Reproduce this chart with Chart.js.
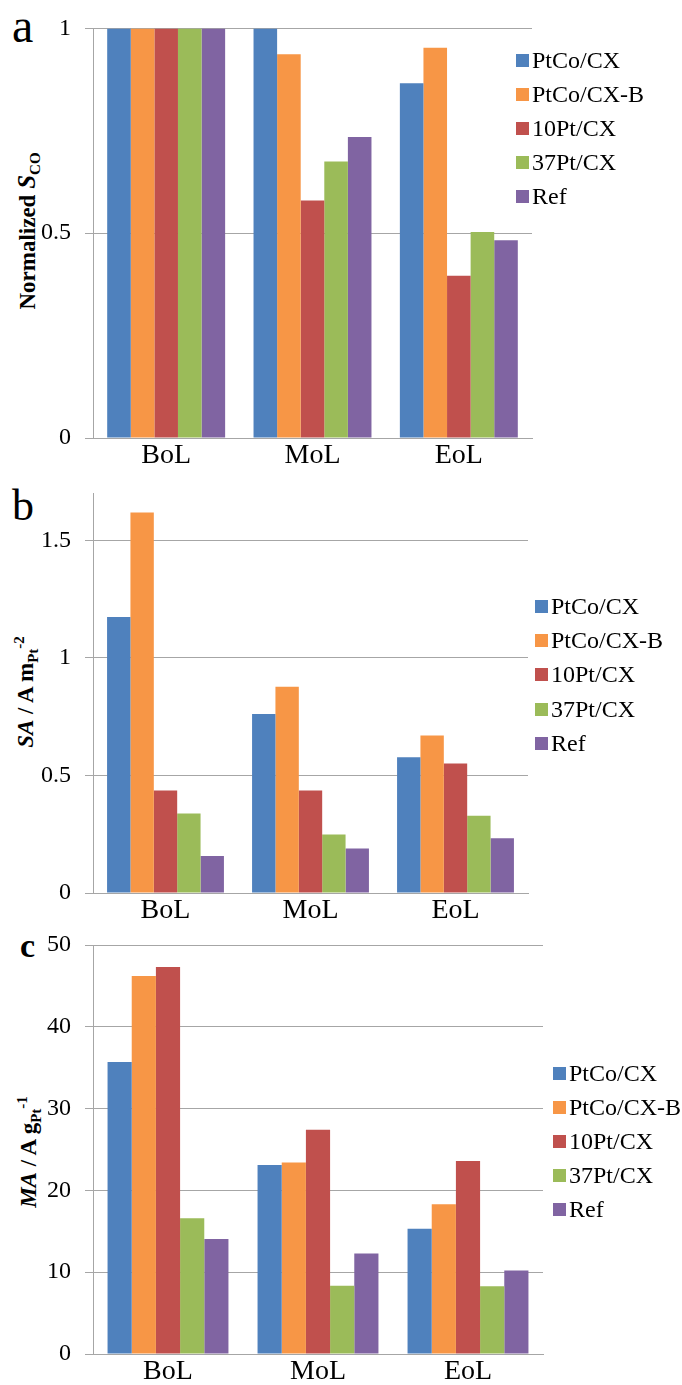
<!DOCTYPE html>
<html>
<head>
<meta charset="utf-8">
<script src="https://cdn.jsdelivr.net/npm/chart.js@4.4.1/dist/chart.umd.min.js"></script>
<style>
  html, body { margin: 0; padding: 0; background: #fff; }
  body { position: relative; width: 682px; height: 1385px; overflow: hidden;
         font-family: "Liberation Serif", "Times New Roman", serif; color: #000; }
  canvas { position: absolute; left: 0; }
  .tag { position: absolute; line-height: 1; font-family: "Liberation Serif", serif; }
  .ytitle { position: absolute; white-space: nowrap; font-weight: bold; font-size: 23px;
            font-family: "Liberation Serif", serif;
            line-height: 1; transform: translate(-50%, -50%) rotate(-90deg); }
  .ytitle sub, .ytitle sup { font-size: 15px; line-height: 0; }
  .ytitle i.big { font-size: 25px; }
  .legend { position: absolute; font-size: 24px; font-family: "Liberation Serif", serif; }
  .legend .row { display: flex; align-items: center; white-space: nowrap; }
  .legend .key { width: 13px; height: 13px; margin-right: 3px; flex: none; }
</style>
</head>
<body>

<div class="tag" style="left:12px; top:2px; font-size:48px;">a</div>
<div class="tag" style="left:12px; top:484px; font-size:44px;">b</div>
<div class="tag" style="left:20px; top:929px; font-size:34px; font-weight:bold;">c</div>

<div class="ytitle" style="left:26px; top:231px;">Normalized <i class="big">S</i><sub>CO</sub></div>
<div class="ytitle" style="left:25px; top:692px;"><i>SA</i> / A m<sub>Pt</sub><sup>-2</sup></div>
<div class="ytitle" style="left:28px; top:1152px;"><i>MA</i> / A g<sub>Pt</sub><sup>-1</sup></div>

<canvas id="chartA"></canvas>
<canvas id="chartB"></canvas>
<canvas id="chartC"></canvas>

<div class="legend" id="legendA"></div>
<div class="legend" id="legendB"></div>
<div class="legend" id="legendC"></div>

<script>
// Life stages on the x axis and catalyst series
const categories = ['BoL', 'MoL', 'EoL'];
const seriesNames = ['PtCo/CX', 'PtCo/CX-B', '10Pt/CX', '37Pt/CX', 'Ref'];
const seriesColors = ['#4F81BD', '#F79646', '#C0504D', '#9BBB59', '#8064A2'];

// (a) normalized CO stripping area
const scoPtCo   = [1.00, 1.00, 0.866];
const scoPtCoB  = [1.00, 0.937, 0.953];
const sco10Pt   = [1.00, 0.580, 0.396];
const sco37Pt   = [1.00, 0.675, 0.503];
const scoRef    = [1.00, 0.735, 0.483];
const scoTicks  = [0, 0.5, 1];

// (b) specific activity, A m_Pt^-2
const saPtCo    = [1.174, 0.762, 0.577];
const saPtCoB   = [1.619, 0.877, 0.670];
const sa10Pt    = [0.436, 0.436, 0.551];
const sa37Pt    = [0.338, 0.249, 0.329];
const saRef     = [0.157, 0.189, 0.233];
const saTicks   = [0, 0.5, 1, 1.5];

// (c) mass activity, A g_Pt^-1
const maPtCo    = [35.7, 23.1, 15.3];
const maPtCoB   = [46.2, 23.4, 18.3];
const ma10Pt    = [47.3, 27.4, 23.6];
const ma37Pt    = [16.6, 8.35, 8.27];
const maRef     = [14.05, 12.3, 10.2];
const maTicks   = [0, 10, 20, 30, 40, 50];

const GRID = '#a6a6a6';
const SERIF = '"Liberation Serif", "Times New Roman", serif';
const AXIS_W = 93;     // width reserved for the value axis
const XAXIS_H = 30;    // height reserved for the category labels

function makePanel(canvasId, legendId, seriesValues, ticks, yMax, box, legendBox) {
  const cv = document.getElementById(canvasId);
  cv.style.top = box.top + 'px';
  cv.width = 682; cv.height = box.height;
  cv.style.width = '682px'; cv.style.height = box.height + 'px';

  const datasets = seriesValues.map((vals, i) => ({
    label: seriesNames[i],
    data: vals,
    backgroundColor: seriesColors[i],
    borderWidth: 0,
    categoryPercentage: 0.806,
    barPercentage: 1.0
  }));

  new Chart(cv, {
    type: 'bar',
    data: { labels: categories, datasets },
    options: {
      responsive: false,
      animation: false,
      devicePixelRatio: 1,
      layout: {
        padding: {
          left: 0,
          right: 682 - box.right,
          top: box.areaTop - box.top,
          bottom: box.top + box.height - box.areaBottom - XAXIS_H
        }
      },
      plugins: { legend: { display: false }, tooltip: { enabled: false } },
      scales: {
        x: {
          offset: true,
          grid: { display: false, drawTicks: false },
          border: { display: true, color: GRID, width: 1 },
          ticks: { font: { family: SERIF, size: 28 }, color: '#000', padding: 1, maxRotation: 0 },
          afterFit: s => { s.height = XAXIS_H; }
        },
        y: {
          min: 0,
          max: yMax,
          afterBuildTicks: s => { s.ticks = ticks.map(v => ({ value: v })); },
          afterFit: s => { s.width = AXIS_W; },
          grid: { color: GRID, lineWidth: 1, drawTicks: true, tickLength: 8 },
          border: { display: true, color: GRID, width: 1 },
          ticks: { font: { family: SERIF, size: 24 }, color: '#000', padding: 14,
                   callback: v => String(v) }
        }
      }
    }
  });

  // legend entries from the same series list
  const lg = document.getElementById(legendId);
  lg.style.left = legendBox.left + 'px';
  lg.style.top = legendBox.top + 'px';
  seriesNames.forEach((name, i) => {
    const row = document.createElement('div');
    row.className = 'row';
    row.style.height = legendBox.step + 'px';
    const key = document.createElement('span');
    key.className = 'key';
    key.style.background = seriesColors[i];
    const txt = document.createElement('span');
    txt.textContent = name;
    row.appendChild(key); row.appendChild(txt);
    lg.appendChild(row);
  });
}

makePanel('chartA', 'legendA',
  [scoPtCo, scoPtCoB, sco10Pt, sco37Pt, scoRef], scoTicks, 1,
  { top: 0, height: 475, areaTop: 27, areaBottom: 438, right: 532 },
  { left: 516, top: 43, step: 34 });

makePanel('chartB', 'legendB',
  [saPtCo, saPtCoB, sa10Pt, sa37Pt, saRef], saTicks, 1.7,
  { top: 465, height: 470, areaTop: 482, areaBottom: 893, right: 528 },
  { left: 535, top: 589, step: 34.3 });

makePanel('chartC', 'legendC',
  [maPtCo, maPtCoB, ma10Pt, ma37Pt, maRef], maTicks, 50,
  { top: 915, height: 470, areaTop: 945, areaBottom: 1354, right: 543 },
  { left: 553, top: 1056, step: 34 });
</script>
</body>
</html>
